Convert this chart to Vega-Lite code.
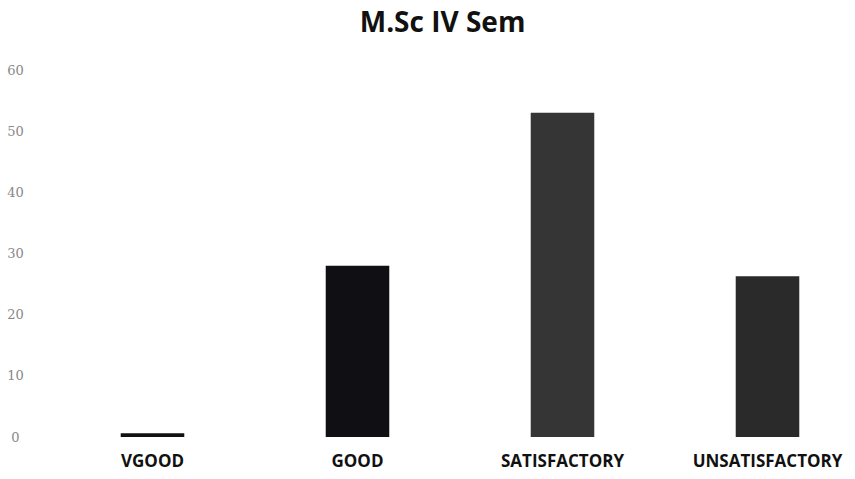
{
  "$schema": "https://vega.github.io/schema/vega-lite/v6.json",
  "autosize": "none",
  "width": 820,
  "height": 367,
  "padding": {"left": 50, "top": 70, "right": 0, "bottom": 42},
  "background": "white",
  "title": {
    "text": "M.Sc IV Sem",
    "font": "Open Sans",
    "fontSize": 28,
    "fontWeight": "bold",
    "color": "#111111",
    "anchor": "start",
    "dx": 353,
    "offset": 26
  },
  "data": {
    "values": [
      {"category": "VGOOD", "value": 0.6},
      {"category": "GOOD", "value": 28},
      {"category": "SATISFACTORY", "value": 53},
      {"category": "UNSATISFACTORY", "value": 26.3}
    ]
  },
  "mark": {"type": "bar"},
  "encoding": {
    "x": {
      "field": "category",
      "type": "nominal",
      "sort": null,
      "scale": {"paddingInner": 0.69, "paddingOuter": 0.345},
      "axis": {
        "title": null,
        "labelAngle": 0,
        "labelFont": "Open Sans",
        "labelFontSize": 17,
        "labelFontWeight": "bold",
        "labelColor": "#111111",
        "labelPadding": 16,
        "domain": false,
        "ticks": false
      }
    },
    "y": {
      "field": "value",
      "type": "quantitative",
      "scale": {"domain": [0, 60], "nice": false},
      "axis": {
        "title": null,
        "values": [0, 10, 20, 30, 40, 50, 60],
        "labelFont": "DejaVu Serif",
        "labelFontSize": 13,
        "labelColor": "#888888",
        "labelPadding": 35,
        "labelAlign": "center",
        "domain": false,
        "ticks": false,
        "grid": false
      }
    },
    "color": {
      "field": "category",
      "type": "nominal",
      "legend": null,
      "scale": {
        "domain": ["VGOOD", "GOOD", "SATISFACTORY", "UNSATISFACTORY"],
        "range": ["#111111", "#0f0f14", "#353535", "#2a2a2a"]
      }
    }
  },
  "config": {"view": {"stroke": null}}
}
